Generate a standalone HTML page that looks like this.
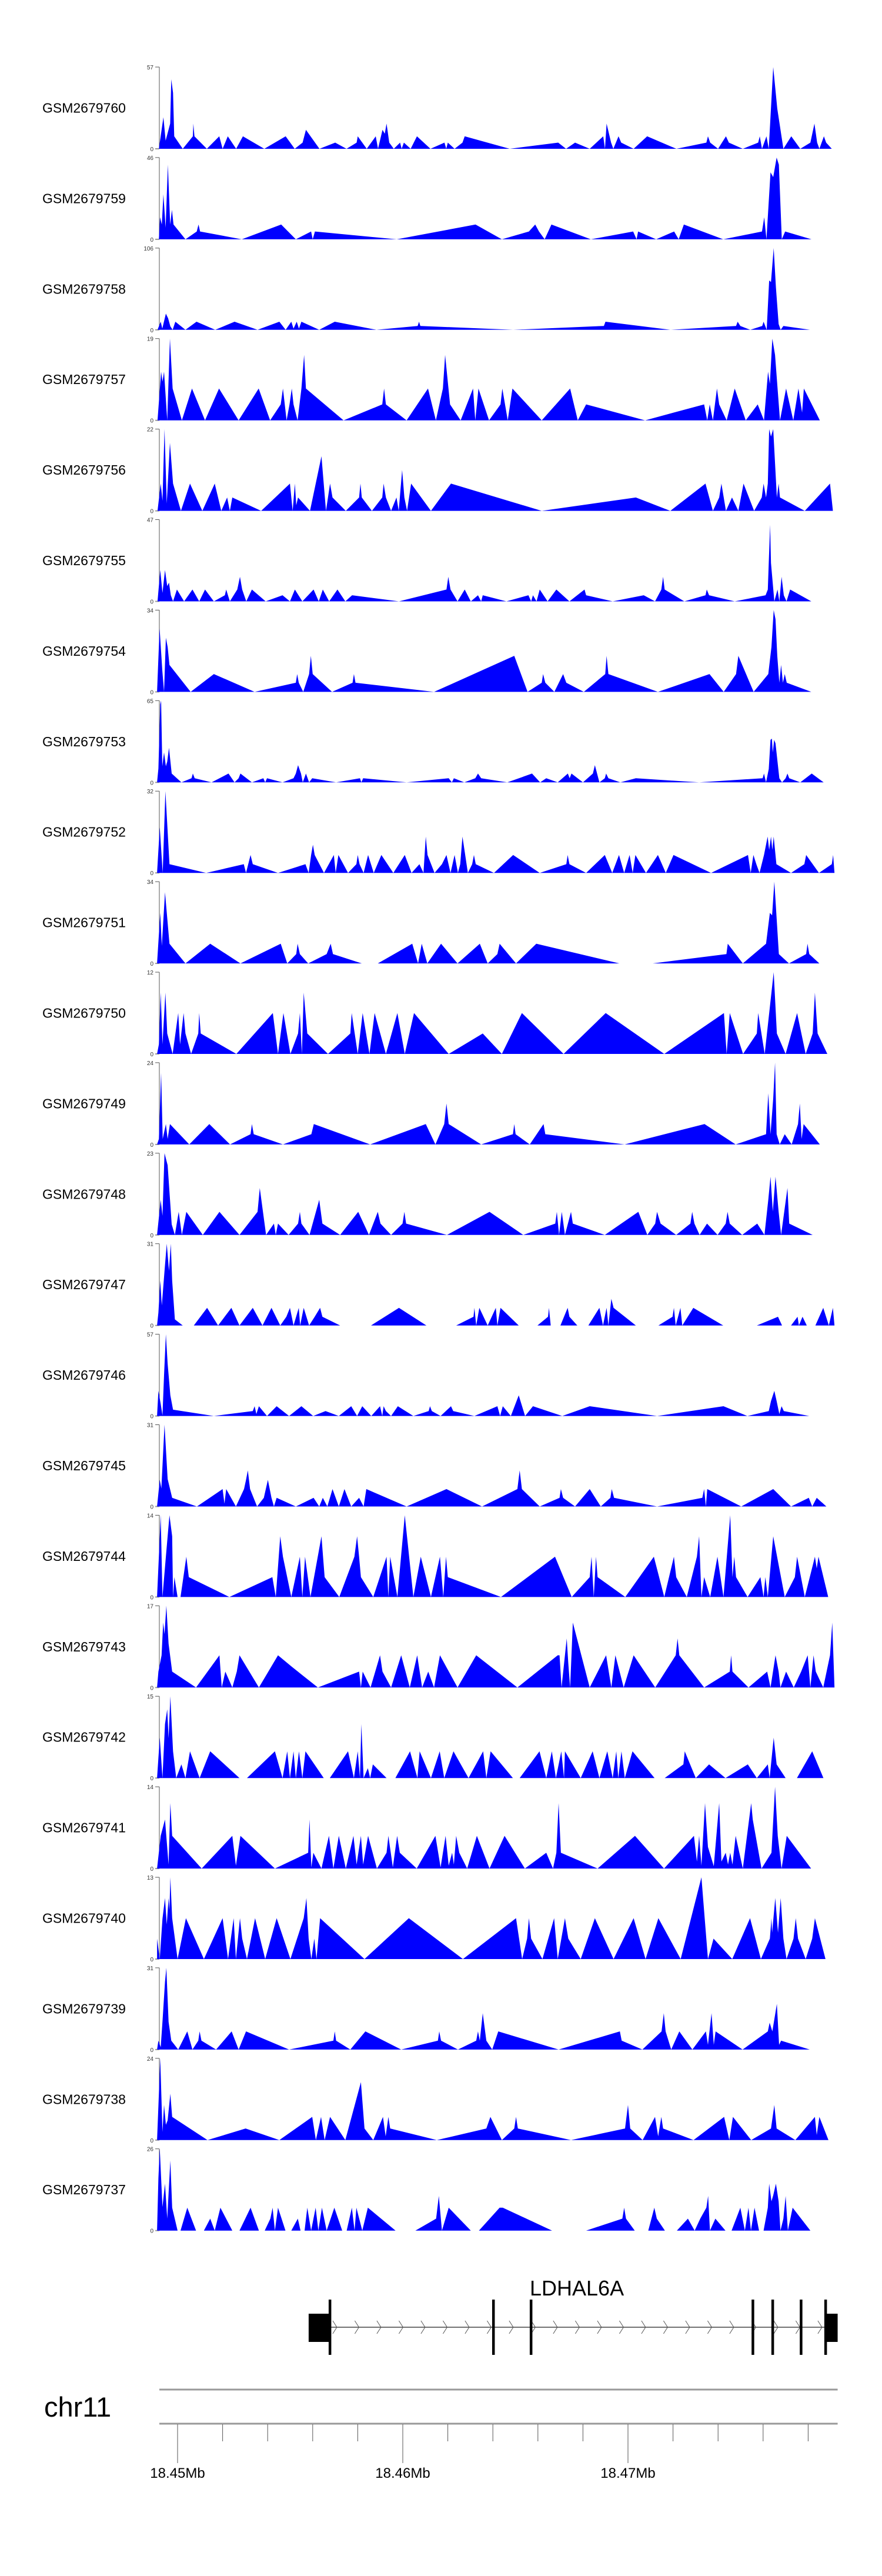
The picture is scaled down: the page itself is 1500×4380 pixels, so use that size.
<!DOCTYPE html>
<html><head><meta charset="utf-8"><title>Coverage tracks LDHAL6A</title>
<style>
html,body{margin:0;padding:0;background:#fff;}
svg{display:block;font-family:"Liberation Sans",Arial,sans-serif;}
</style></head>
<body>
<svg id="chart" width="1500" height="4380" viewBox="0 0 1500 4380" xmlns="http://www.w3.org/2000/svg">
<g id="tracks"></g>
<g id="gene"></g>
<g id="axis"></g>
</svg>
<script>
// positions in kb relative to 18.45 Mb; values = coverage
const trackNames = ["GSM2679760","GSM2679759","GSM2679758","GSM2679757","GSM2679756","GSM2679755","GSM2679754","GSM2679753","GSM2679752","GSM2679751","GSM2679750","GSM2679749","GSM2679748","GSM2679747","GSM2679746","GSM2679745","GSM2679744","GSM2679743","GSM2679742","GSM2679741","GSM2679740","GSM2679739","GSM2679738","GSM2679737"];
const trackMax = [57,46,106,19,22,47,34,65,32,34,12,24,23,31,57,31,14,17,15,14,13,31,24,26];

const pos_760=[-0.83,-0.63,-0.53,-0.33,-0.28,-0.2,-0.15,0.23,0.68,0.7,0.75,1.3,1.85,2.0,2.23,2.6,2.9,3.85,4.8,5.2,5.55,5.7,6.3,7.0,7.5,7.95,8.0,8.4,8.8,8.9,9.1,9.2,9.28,9.4,9.6,9.88,9.95,10.05,10.35,10.63,11.23,11.85,11.93,12.0,12.3,12.65,12.75,14.75,16.9,17.25,17.65,18.3,18.9,18.98,19.05,19.25,19.35,19.58,19.7,20.25,20.85,22.15,23.48,23.55,23.65,24.0,24.35,24.48,25.1,25.78,25.85,25.95,26.15,26.25,26.45,26.63,26.9,27.25,27.65,28.1,28.28,28.4,28.5,28.7,28.8,29.05];
const val_760=[0,22,5.7,17.6,48.5,39,8.7,0,8.7,17.6,8.7,0,8.7,0,8.7,0,8.7,0,8.7,0,4.3,13.2,0,4.3,0,4.3,8.7,0,8.7,0,13.2,10.5,17.6,4.3,0,4.3,0,4.3,0,8.7,0,4.3,0,4.3,0,4.3,8.7,0,4.3,0,4.3,0,8.7,0,17.6,4.3,0,8.7,4.3,0,8.7,0,4.3,8.7,4.3,0,8.7,4.3,0,4.3,8.7,0,8.7,0,57,28,0,8.7,0,4.3,17.6,4.3,0,8.7,4.3,0];

const pos_759=[-0.83,-0.78,-0.7,-0.63,-0.53,-0.43,-0.33,-0.25,-0.18,0.35,0.85,0.93,1.0,2.85,4.6,5.25,5.93,6.0,6.1,9.73,13.23,14.4,15.6,15.88,16.05,16.3,16.6,18.35,20.23,20.38,20.45,21.25,22.05,22.25,22.48,24.23,25.95,26.05,26.15,26.33,26.45,26.6,26.7,26.83,26.98,28.15];
const val_759=[0,12.4,8.3,25.3,6.5,42,8.3,16.6,8.3,0,4.4,8.3,4.4,0,8.3,0,4.4,0,4.4,0,8.3,0,4.4,8.3,4.4,0,8.3,0,4.4,0,4.4,0,4.4,0,8.3,0,4.4,12.4,0,37.7,35,46,42,0,4.4,0];

const pos_758=[-0.89,-0.75,-0.68,-0.52,-0.42,-0.32,-0.22,-0.1,0.35,0.84,1.67,2.53,3.55,4.52,4.8,5.05,5.15,5.29,5.39,5.5,6.29,6.98,8.83,10.66,10.72,10.78,14.9,18.93,19.0,21.88,24.8,24.87,24.99,25.43,25.96,26.02,26.16,26.27,26.35,26.47,26.57,26.69,26.78,26.9,28.08];
const val_758=[0,10.5,1.5,21,15,4.5,0,10.5,0,10.5,0,10.5,0,10.5,0,10.5,1.5,10.5,1.5,10.5,0,10.5,0,5,10.5,5,0,5,10.5,0,5,10.5,5,0,5,10.5,0,64,62,106,55,7.5,0,5,0];

const pos_757=[-0.89,-0.73,-0.67,-0.6,-0.46,-0.34,-0.22,0.19,0.64,1.22,1.84,2.71,3.6,4.11,4.58,4.68,4.84,4.97,5.07,5.15,5.33,5.5,5.62,5.7,7.37,9.09,9.17,9.25,10.17,11.12,11.47,11.78,11.88,12.1,12.57,13.12,13.22,13.36,13.83,14.34,14.42,14.66,14.87,16.17,17.43,17.77,18.14,20.76,23.38,23.52,23.63,23.77,23.95,24.05,24.38,24.74,25.23,25.76,26.04,26.22,26.3,26.41,26.53,26.75,27.02,27.34,27.57,27.73,27.81,28.52];
const val_757=[0,11.3,9,11.3,0,19,7.4,0,7.4,0,7.4,0,7.4,0,3.7,7.4,0,3.7,7.4,3.7,0,7.4,15.2,7.4,0,3.7,7.4,3.7,0,7.4,0,7.4,15.2,3.7,0,7.4,0,7.4,0,3.7,7.4,0,7.4,0,7.4,0,3.7,0,3.7,0,3.7,0,7.4,3.7,0,7.4,0,3.7,0,11.3,8.5,19,15.2,0,7.4,0,7.4,1.8,7.4,0];

const pos_756=[-0.89,-0.75,-0.67,-0.58,-0.48,-0.34,-0.2,0.15,0.55,1.1,1.65,1.94,2.2,2.32,2.43,3.71,4.99,5.11,5.21,5.27,5.35,5.88,6.39,6.59,6.77,6.88,7.47,8.06,8.12,8.18,8.63,9.09,9.15,9.25,9.48,9.72,9.82,9.97,10.07,10.19,10.37,11.25,12.14,16.17,20.35,21.88,23.44,23.77,24.05,24.15,24.35,24.62,24.9,25.13,25.6,25.94,26.02,26.13,26.21,26.27,26.35,26.45,26.61,26.69,26.75,27.85,28.97,29.1];
const val_756=[0,7.35,2.7,22,2,18.3,7.35,0,7.35,0,7.35,0,3.6,0,3.6,0,7.35,0,7.35,1.5,3.6,0,14.7,0,7.35,3.6,0,3.6,7.35,3.6,0,3.6,7.35,3.6,0,3.6,0,11,3.6,0,7.35,0,7.35,0,3.6,0,7.35,0,3.6,7.35,0,3.6,0,7.35,0,3.6,7.35,3.6,7.35,22,20,22,3.6,7.35,3.6,0,7.35,0];

const pos_755=[-0.89,-0.77,-0.67,-0.56,-0.46,-0.38,-0.3,-0.2,-0.03,0.29,0.66,0.96,1.22,1.61,2.1,2.16,2.32,2.65,2.77,2.87,3.05,3.3,3.91,4.66,4.99,5.21,5.54,6.04,6.27,6.45,6.73,7.1,7.45,7.75,9.83,11.94,12.02,12.12,12.43,12.75,13.02,13.34,13.48,13.55,14.6,15.58,15.7,15.78,15.94,16.08,16.43,16.82,17.4,18.07,18.14,19.32,20.7,21.2,21.48,21.56,21.63,22.5,23.44,23.5,23.6,24.74,26.11,26.21,26.31,26.35,26.5,26.64,26.72,26.82,26.92,27.04,27.2,28.14];
const val_755=[0,18,4.8,18,8.8,10.8,3.5,0,6.8,0,6.8,0,6.8,0,3.5,6.8,0,6.8,14.1,6.8,0,6.8,0,3.5,0,6.8,0,6.8,0,6.8,0,6.8,0,3.5,0,6.8,14.1,6.8,0,6.8,0,3.5,0,3.5,0,3.5,0,3.5,0,6.8,0,6.8,0,6.8,3.5,0,3.5,0,6.8,14.1,6.8,0,3.5,6.8,3.5,0,3.5,6.8,44,22,0,6.8,0,14.1,3.5,0,6.8,0];

const pos_754=[-0.91,-0.8,-0.68,-0.6,-0.52,-0.44,-0.36,0.58,1.61,3.42,5.25,5.31,5.38,5.58,5.84,5.92,6.0,6.86,7.77,7.83,7.9,11.39,14.95,15.54,16.17,16.23,16.33,16.73,17.12,17.26,18.04,18.99,19.05,19.13,21.33,23.62,24.25,24.8,24.9,25.58,26.23,26.37,26.47,26.55,26.63,26.72,26.8,26.88,26.96,27.05,28.14];
const val_754=[0,26.5,9,0,22.5,18.7,11.2,0,7.4,0,3.8,7.4,3.8,0,7.4,15,7.4,0,3.8,7.4,3.8,0,15,0,3.8,7.4,3.8,0,7.4,3.8,0,7.4,15,7.4,0,7.4,0,7.4,15,0,7.4,18.7,34,30.2,15,3.8,11.2,3.8,7.4,3.8,0];

const pos_753=[-0.91,-0.85,-0.77,-0.73,-0.68,-0.6,-0.52,-0.46,-0.38,-0.26,0.17,0.62,0.68,0.76,1.51,2.26,2.53,2.71,2.79,3.3,3.81,3.89,3.97,4.66,5.15,5.25,5.35,5.48,5.56,5.7,5.84,5.98,7.04,8.1,8.16,8.24,10.17,12.04,12.18,12.27,12.73,13.22,13.34,13.48,14.64,15.74,16.1,16.37,16.88,17.33,17.41,17.49,18.0,18.44,18.53,18.73,18.97,19.03,19.13,19.66,20.35,23.16,25.98,26.04,26.13,26.25,26.33,26.39,26.43,26.49,26.55,26.72,26.84,27.0,27.08,27.16,27.65,28.16,28.69];
const val_753=[0,11,62,65,12.8,23.8,12.8,16.5,27.5,7,0,3.3,7,3.3,0,7,0,3.3,7,0,3.3,0,3.3,0,3.3,7,13.7,7,0,7,0,3.3,0,3.3,0,3.3,0,3.3,0,3.3,0,3.3,7,3.3,0,7,0,3.3,0,7,3.3,7,0,7,13.7,0,3.3,7,3.3,0,3.3,0,3.3,7,0,10.6,33.8,34.8,23.8,33.8,31,3.3,0,3.3,7,3.3,0,7,0];

const pos_752=[-0.91,-0.79,-0.66,-0.54,-0.36,1.27,2.94,3.04,3.24,3.34,4.46,5.68,5.82,5.93,6.01,6.09,6.5,6.94,7.02,7.14,7.57,7.94,8.0,8.08,8.26,8.46,8.71,9.05,9.58,10.09,10.39,10.74,10.92,11.02,11.1,11.41,11.74,11.94,12.12,12.3,12.45,12.55,12.65,12.89,13.08,13.16,13.24,14.05,14.9,16.08,17.26,17.32,17.4,18.14,18.97,19.3,19.6,19.83,20.07,20.21,20.33,20.8,21.33,21.68,22.02,23.69,25.33,25.45,25.57,25.7,25.84,26.04,26.2,26.27,26.35,26.41,26.47,26.59,27.24,27.83,27.91,28.48,29.05,29.11,29.17];
const val_752=[0,17.8,0,32,3.4,0,3.4,0,7,3.4,0,3.4,0,7,11,7,0,7,0,7,0,3.4,7,3.4,0,7,0,7,0,7,0,3.4,0,14.2,7,0,3.4,7,0,7,0,3.4,14.2,0,3.4,7,3.4,0,7,0,3.4,7,3.4,0,7,0,7,0,7,0,7,0,7,0,7,0,7,0,7,3.4,0,7,14.2,9,14.2,9,14.2,3.4,0,3.4,7,0,3.4,7,0];

const pos_751=[-0.91,-0.77,-0.7,-0.56,-0.36,0.35,1.45,2.79,4.58,4.87,5.27,5.33,5.43,5.8,6.62,6.8,6.9,8.18,8.89,10.42,10.68,10.84,11.09,11.7,12.43,13.42,13.77,14.2,14.3,15.03,15.93,19.62,21.1,24.37,24.43,25.1,26.13,26.3,26.4,26.5,26.7,27.15,27.91,27.97,28.05,28.5];
const val_751=[0,21,7.3,29.6,8.2,0,8.2,0,8.2,0,3.9,8.2,3.9,0,3.9,8.2,3.9,0,0,8.2,0,8.2,0,8.2,0,8.2,0,3.9,8.2,0,8.2,0,0,3.9,8.2,0,8.2,21,20,34,3.9,0,3.9,8.2,3.9,0];

const pos_750=[-0.91,-0.83,-0.75,-0.67,-0.54,-0.46,-0.22,0.03,0.11,0.27,0.35,0.6,0.92,0.96,1.03,2.61,4.23,4.46,4.7,5.01,5.35,5.43,5.52,5.6,5.76,6.68,7.67,7.73,8.0,8.22,8.52,8.75,9.25,9.76,10.09,10.5,12.04,13.55,14.4,15.29,17.14,19.01,21.61,24.26,24.38,24.52,25.11,25.72,25.78,26.07,26.47,26.61,27.0,27.51,27.89,28.2,28.3,28.42,28.85];
const val_750=[0,1.4,9,1.4,9,3,0,6,1.4,6,3,0,3,6,3,0,6,0,6,0,3,6,0,9,3,0,3,6,0,6,0,6,0,6,0,6,0,3,0,6,0,6,0,6,0,6,0,3,6,0,12,3,0,6,0,3,9,3,0];

const pos_749=[-0.91,-0.83,-0.73,-0.66,-0.52,-0.44,-0.34,0.52,1.41,2.33,3.24,3.3,3.38,4.68,5.94,6.05,8.55,11.02,11.45,11.84,11.94,12.04,13.48,14.89,14.95,15.01,15.64,16.25,16.33,19.85,23.4,24.78,26.13,26.23,26.33,26.45,26.53,26.6,26.74,26.96,27.27,27.55,27.63,27.71,27.8,28.52];
const val_749=[0,1.6,21,1.6,6,1.6,6,0,6,0,3,6,3,0,3,6,0,6,0,6,12,6,0,3,6,3,0,6,3,0,6,0,3,15,3,13.5,24,3,0,3,0,6,12,1.6,6,0];

const pos_748=[-0.91,-0.75,-0.67,-0.58,-0.44,-0.26,-0.12,0.05,0.19,0.39,1.12,1.86,2.75,3.55,3.65,3.93,4.28,4.36,4.46,4.93,5.35,5.43,5.5,5.86,6.29,6.43,7.22,8.02,8.5,8.89,9.01,9.48,9.99,10.07,10.15,11.96,13.85,15.35,16.77,16.84,16.94,17.06,17.2,17.47,17.55,18.97,20.46,20.86,21.21,21.29,21.45,22.14,22.77,22.85,22.95,23.18,23.51,23.98,24.34,24.42,24.52,25.07,25.74,26.06,26.23,26.33,26.43,26.55,26.69,26.8,27.08,27.16,28.2];
const val_748=[0,9.9,5.4,23,19.6,3,0,6.5,0,6.5,0,6.5,0,6.5,13.2,0,3.2,0,3.2,0,3.2,6.5,3.2,0,9.9,3.2,0,6.5,0,6.5,3.2,0,3.2,6.5,3.2,0,6.5,0,3.2,6.5,0,6.5,0,6.5,3.2,0,6.5,0,3.2,6.5,3.2,0,3.2,6.5,3.2,0,3.2,0,3.2,6.5,3.2,0,3.2,0,9.9,16.4,6.6,16.4,6.5,0,13.2,3.2,0];

const pos_747=[-0.91,-0.85,-0.77,-0.7,-0.58,-0.48,-0.38,-0.3,-0.24,-0.12,0.23,0.72,1.31,1.8,2.39,2.75,3.34,3.77,4.17,4.56,4.83,4.99,5.15,5.38,5.44,5.6,5.84,6.09,6.33,6.43,7.22,8.59,9.83,11.05,12.37,13.14,13.18,13.26,13.4,13.77,14.13,14.2,14.34,15.15,15.98,16.45,16.49,16.57,17.0,17.32,17.4,17.75,18.24,18.73,18.89,19.05,19.13,19.26,19.36,20.35,21.35,21.98,22.04,22.12,22.33,22.41,22.9,24.23,25.72,26.66,26.84,27.24,27.53,27.59,27.75,27.94,28.32,28.67,28.92,29.1,29.17];
const val_747=[0,4.9,17,7.6,20.7,31,20.7,31,17,2.3,0,0,6.7,0,6.7,0,6.7,0,6.7,0,3.3,6.7,0,6.7,0,6.7,0,3.3,6.7,3.3,0,0,6.7,0,0,3.3,6.7,0,6.7,0,6.7,0,6.7,0,0,3.3,6.7,0,0,6.7,3.3,0,0,6.7,0,6.7,0,10.1,6.7,0,0,3.3,6.7,0,6.7,0,6.7,0,0,3.3,0,0,3.3,0,3.3,0,0,6.7,0,6.7,0];

const pos_746=[-0.91,-0.85,-0.75,-0.67,-0.6,-0.52,-0.44,-0.32,-0.2,1.61,3.34,3.42,3.5,3.61,3.97,4.4,4.95,5.5,6.02,6.57,7.16,7.71,7.97,8.2,8.6,8.99,9.09,9.15,9.25,9.48,9.78,10.47,11.15,11.21,11.29,11.68,12.14,12.24,13.18,14.2,14.32,14.44,14.8,15.15,15.43,15.78,17.08,18.3,21.29,24.24,25.3,26.25,26.35,26.5,26.6,26.72,26.82,26.92,28.05];
const val_746=[0,17.5,8.4,0.4,28.5,57,36.5,14.4,4.4,0,3.4,6.8,1.4,6.8,0,6.8,0,6.8,0,3.4,0,6.8,0,6.8,0,6.8,0,6.8,3.4,0,6.8,0,3.4,6.8,3.4,0,6.8,3.4,0,6.8,0,6.8,0,14.4,0,6.8,0,6.8,0,6.8,0,3.4,10.4,17.5,10.4,1.4,6.8,3.4,0];

const pos_745=[-0.91,-0.79,-0.72,-0.58,-0.44,-0.24,0.86,2.0,2.08,2.16,2.59,2.95,3.04,3.12,3.22,3.53,3.83,4.01,4.17,4.28,4.4,5.25,6.04,6.29,6.45,6.65,6.88,7.16,7.41,7.71,8.06,8.26,8.38,10.17,11.94,13.52,15.09,15.19,15.29,16.08,16.96,17.02,17.12,17.65,18.3,18.79,19.22,19.28,19.38,21.29,23.3,23.38,23.46,23.52,25.03,26.45,27.24,28.03,28.18,28.38,28.81];
const val_745=[0,10.1,6.8,31,10.4,3.3,0,6.6,1.1,6.6,0,6.6,10.1,13.7,6.6,0,3.3,10.1,3.3,0,3.3,0,3.3,0,3.3,0,6.6,0,6.6,0,3.3,0,6.6,0,6.6,0,6.6,13.7,6.6,0,3.3,6.6,3.3,0,6.6,0,3.3,6.6,3.3,0,3.3,6.6,0,6.6,0,6.6,0,3.3,0,3.3,0];

const pos_744=[-0.91,-0.75,-0.67,-0.52,-0.36,-0.24,-0.2,-0.14,0.0,0.13,0.39,0.5,2.3,4.21,4.36,4.56,4.68,5.05,5.43,5.54,5.66,5.9,6.39,6.53,7.18,7.85,7.97,8.06,8.14,8.69,9.28,9.36,9.44,9.76,10.09,10.47,10.8,11.25,11.65,11.8,11.92,12.0,14.36,16.76,17.5,18.3,18.38,18.48,18.58,18.65,19.88,21.15,21.61,22.04,22.14,22.61,23.06,23.16,23.26,23.38,23.65,23.97,24.24,24.54,24.64,24.72,24.8,25.31,25.88,26.02,26.1,26.21,26.45,26.96,27.41,27.51,27.85,28.3,28.38,28.46,28.89];
const val_744=[0,14,0,6.9,14,10.4,0,3.4,0,0,6.9,3.4,0,3.4,0,10.4,6.9,0,6.9,0,6.9,0,10.4,3.4,0,6.9,10.4,6.9,3.4,0,6.9,0,6.9,0,14,0,6.9,0,6.9,0,6.9,3.4,0,6.9,0,3.4,6.9,0,6.9,3.4,0,6.9,0,6.9,3.4,0,6.9,10.4,0,3.4,0,6.9,0,14,3.4,6.9,3.4,0,3.4,0,3.4,0,10.4,0,3.4,6.9,0,6.9,4.9,6.9,0];

const pos_743=[-0.91,-0.85,-0.71,-0.64,-0.58,-0.5,-0.4,-0.24,0.82,1.86,1.96,2.12,2.43,2.63,2.75,3.61,4.46,5.05,6.23,8.06,8.14,8.22,8.57,8.99,9.1,9.48,9.93,10.31,10.64,10.86,11.13,11.39,11.65,12.43,13.26,15.09,16.88,16.96,17.05,17.28,17.35,17.43,17.55,18.3,19.03,19.26,19.44,19.81,20.25,21.21,22.12,22.2,22.28,23.38,24.52,24.58,24.64,25.35,26.18,26.33,26.55,26.69,26.77,27.02,27.36,27.69,27.98,28.1,28.24,28.34,28.67,28.97,29.07,29.17];
const val_743=[0,3.3,6.7,13.5,11.1,17,9.1,3.3,0,6.7,0,3.3,0,3.3,6.7,0,6.7,4.4,0,3.3,0,3.3,0,6.7,3.3,0,6.7,0,6.7,0,3.3,0,6.7,0,6.7,0,6.7,6.7,0,10.2,5,0,13.5,0,6.7,0,6.7,0,6.7,0,6.7,10.2,6.7,0,3.3,6.7,3.3,0,3.3,0,6.7,3.3,0,3.3,0,3.3,6.7,0,6.7,3.3,0,6.7,13.5,0];

const pos_742=[-0.91,-0.79,-0.67,-0.56,-0.46,-0.4,-0.32,-0.2,-0.06,0.17,0.35,0.55,0.98,1.45,2.75,3.08,4.32,4.66,4.87,4.99,5.15,5.25,5.39,5.54,5.68,6.49,6.76,7.57,7.83,8.0,8.1,8.16,8.26,8.45,8.55,8.67,9.28,9.67,10.32,10.65,10.75,11.25,11.64,11.84,12.25,12.92,13.57,13.71,13.9,14.89,15.19,16.07,16.37,16.62,16.8,17.04,17.16,17.2,17.9,18.43,18.73,19.08,19.32,19.48,19.57,19.71,19.86,20.2,21.18,21.63,22.46,22.52,23.01,23.6,24.33,25.32,25.72,26.21,26.29,26.47,26.6,27.0,27.5,28.18,28.68];
const val_742=[0,7.4,0,9.9,12.6,7.3,15,4.9,0,2.5,0,4.9,0,4.9,0,0,4.9,0,4.9,0,4.9,0,4.9,0,4.9,0,0,4.9,0,4.9,0,9.9,0,1.8,0,2.5,0,0,4.9,0,4.9,0,4.9,0,4.9,0,4.9,0,4.9,0,0,4.9,0,4.9,0,4.9,0,4.9,0,4.9,0,4.9,0,4.9,0,4.9,0,4.9,0,0,2.5,4.9,0,2.5,0,2.5,0,2.5,0,7.4,2.5,0,0,4.9,0];

const pos_741=[-0.91,-0.75,-0.56,-0.4,-0.32,-0.24,1.07,2.43,2.59,2.79,4.32,5.8,5.86,5.94,6.03,6.39,6.72,6.92,7.16,7.47,7.81,7.95,8.14,8.24,8.46,8.85,9.28,9.36,9.56,9.75,9.87,10.62,11.45,11.68,11.9,12.04,12.19,12.27,12.37,12.51,12.86,13.29,13.85,14.52,15.42,16.37,16.67,16.82,16.92,17.02,18.65,20.31,21.6,22.93,23.06,23.16,23.26,23.42,23.55,23.81,24.05,24.15,24.34,24.44,24.54,24.64,24.78,25.1,25.47,25.54,25.93,26.37,26.53,26.65,26.82,27.05,28.13];
const val_741=[0,5.6,8.4,0.7,11.2,5.6,0,5.6,0.5,5.6,0,2.7,8.4,0.2,2.7,0,5.6,0,5.6,0,5.6,0.7,5.6,0.7,5.6,0,2.7,5.6,0.2,5.6,2.7,0,5.6,0.2,5.6,0.5,2.7,0.7,5.6,2.7,0,5.6,0,5.6,0,2.7,0,2.7,11.2,2.7,0,5.6,0,5.6,1.2,5.6,0.5,11.2,3.7,0.4,11.2,1.2,2.7,0.7,2.7,0.7,5.6,0,11.2,8.4,0,2.7,14,5.6,0,5.6,0];

const pos_740=[-0.91,-0.79,-0.67,-0.56,-0.48,-0.4,-0.36,-0.32,-0.24,0.0,0.37,1.17,2.0,2.24,2.49,2.59,2.77,2.87,3.08,3.44,3.89,4.4,5.01,5.6,5.72,5.82,5.94,6.07,6.17,6.33,8.3,10.27,12.67,15.03,15.3,15.52,15.6,15.7,16.2,16.72,16.88,17.2,17.35,17.9,18.53,19.36,20.25,20.78,21.35,22.34,23.26,23.55,23.8,24.63,25.42,25.9,26.3,26.37,26.4,26.54,26.66,26.78,26.9,27.04,27.35,27.45,27.55,27.89,28.18,28.3,28.77];
const val_740=[3.25,0,6.4,9.7,5.5,9.7,7.8,13,6.5,0,6.5,0,6.5,0,6.5,0,6.5,3.25,0,6.5,0,6.5,0,6.5,9.7,3.25,0,3.25,0,6.5,0,6.5,0,6.5,0,3.25,6.5,3.25,0,6.5,0,6.5,3.25,0,6.5,0,6.5,0,6.5,0,13,0,3.25,0,6.5,0,3.25,6.5,4.2,9.7,4.2,9.7,3.25,0,3.25,6.5,3.25,0,3.25,6.5,0];

const pos_739=[-0.91,-0.85,-0.75,-0.67,-0.56,-0.5,-0.4,-0.28,0.03,0.43,0.66,0.92,0.98,1.06,1.71,2.4,2.71,3.04,4.95,6.92,6.98,7.04,7.67,8.34,9.93,11.56,11.62,11.7,12.45,13.26,13.34,13.42,13.55,13.71,13.97,14.24,16.92,19.64,19.72,20.64,21.49,21.59,21.67,21.92,22.28,22.86,23.46,23.55,23.71,23.81,23.89,25.09,26.21,26.29,26.41,26.61,26.71,26.8,28.07];
const val_739=[0,3.4,0.9,10.5,25.7,31,10.5,3.4,0,6.9,0,3.4,6.9,3.4,0,6.9,0,6.9,0,3.4,6.9,3.4,0,6.9,0,3.4,6.9,3.4,0,3.4,6.9,3.4,13.8,3.4,0,6.9,0,6.9,3.4,0,6.9,13.8,6.9,0,6.9,0,6.9,1.8,13.8,1.8,6.9,0,6.9,10.2,6.9,17.3,1.8,3.4,0];

const pos_738=[-0.91,-0.85,-0.77,-0.67,-0.6,-0.52,-0.44,-0.32,-0.24,1.33,3.02,4.52,5.98,6.14,6.37,6.53,6.77,7.45,8.14,8.3,8.69,9.12,9.24,9.36,9.44,11.51,13.71,13.89,14.4,14.95,15.03,15.11,17.47,19.87,20.0,20.1,20.65,21.2,21.34,21.48,21.56,22.91,24.27,24.5,24.66,25.47,26.35,26.5,26.6,27.43,28.3,28.38,28.5,28.9];
const val_738=[0,10,24,2.4,10.3,4.5,5.8,13.6,6.8,0,3.4,0,6.8,0,6.8,0,6.8,0,17,3.4,0,6.8,1.1,6.8,3.4,0,3.4,6.8,0,3.4,6.8,3.4,0,3.4,10.3,3.4,0,6.8,1.1,6.8,3.4,0,6.8,0,6.8,0,3.4,10.3,3.4,0,6.8,1.5,6.8,0];

const pos_737=[-0.91,-0.85,-0.79,-0.67,-0.56,-0.46,-0.32,-0.24,0.0,0.13,0.43,0.82,1.17,1.45,1.65,1.9,2.43,2.75,3.24,3.61,3.87,4.12,4.22,4.32,4.46,4.79,5.05,5.34,5.46,5.64,5.76,5.93,6.13,6.25,6.41,6.62,6.96,7.31,7.51,7.74,7.86,7.94,8.2,8.45,9.68,10.56,11.48,11.6,11.74,12.04,13.02,13.38,14.3,14.44,16.63,18.14,19.75,19.83,19.91,20.3,20.9,21.17,21.28,21.64,22.17,22.66,22.96,23.21,23.48,23.56,23.64,23.88,24.33,24.6,24.99,25.19,25.35,25.46,25.62,25.82,26.02,26.21,26.27,26.37,26.45,26.57,26.69,26.77,26.9,27.0,27.1,27.31,28.1];
const val_737=[0,16.7,26,7.5,14.9,3.8,22.3,7.3,0,0,7.3,0,0,3.8,0,7.3,0,0,7.3,0,0,3.8,7.3,0,7.3,0,0,3.8,0,0,7.3,0,7.3,0,7.3,0,7.3,0,0,7.3,0,7.3,0,7.3,0,0,3.8,11,0,7.3,0,0,7.3,7.3,0,0,3.8,7.3,3.8,0,0,7.3,3.8,0,0,3.8,0,3.8,7.3,11,0,3.8,0,0,7.3,0,7.3,0,7.3,0,0,7.3,14.9,9.3,11.2,14.9,9.3,0,3.8,11,0,7.3,0];

const trackPos=[pos_760,pos_759,pos_758,pos_757,pos_756,pos_755,pos_754,pos_753,pos_752,pos_751,pos_750,pos_749,pos_748,pos_747,pos_746,pos_745,pos_744,pos_743,pos_742,pos_741,pos_740,pos_739,pos_738,pos_737];
const trackVal=[val_760,val_759,val_758,val_757,val_756,val_755,val_754,val_753,val_752,val_751,val_750,val_749,val_748,val_747,val_746,val_745,val_744,val_743,val_742,val_741,val_740,val_739,val_738,val_737];

// gene model (kb relative to 18.45 Mb)
const geneName = "LDHAL6A";
const utrBoxes = [[5.82,6.76],[28.77,29.31]];
const exonPos = [6.76,14.02,15.69,25.54,26.42,27.68,28.77];
const geneRange = [6.76,28.77];
const axisRange = [-0.81,29.31];
const axisTicksKb = [0,2,4,6,8,10,12,14,16,18,20,22,24,26,28];
const axisLabels = ["18.45Mb","18.46Mb","18.47Mb"];
const axisLabelKb = [0,10,20];

const NS="http://www.w3.org/2000/svg";
const PX_ORIGIN=302, PX_PER_KB=38.3;
function xScale(kb){return PX_ORIGIN+kb*PX_PER_KB;}
const TRACK_BASE0=253, TRACK_PITCH=153.9, TRACK_H=139, AXIS_X=271;
function mk(tag,attrs,parent){const e=document.createElementNS(NS,tag);for(const k in attrs)e.setAttribute(k,attrs[k]);parent.appendChild(e);return e;}

const gT=document.getElementById('tracks');
trackNames.forEach(function(name,i){
  const base=TRACK_BASE0+i*TRACK_PITCH, top=base-TRACK_H, mx=trackMax[i];
  const yS=function(v){return base-(v/mx)*TRACK_H;};
  const g=mk('g',{},gT);
  
  
  const lab=mk('text',{x:72,y:top+TRACK_H/2+8,'font-size':23,fill:'#000'},g);
  lab.textContent=name;
  
  
  const ax=mk('line',{x1:AXIS_X,y1:top,x2:AXIS_X,y2:base,stroke:'#555','stroke-width':1},g);
  
  
  mk('line',{x1:AXIS_X-7,y1:top,x2:AXIS_X,y2:top,stroke:'#555','stroke-width':1},g);
  mk('line',{x1:AXIS_X-7,y1:base,x2:AXIS_X,y2:base,stroke:'#999','stroke-width':2},g);
  const tMax=mk('text',{x:AXIS_X-10,y:top+4,'font-size':10,'text-anchor':'end',fill:'#333'},g);
  tMax.textContent=String(mx);
  
  
  const t0=mk('text',{x:AXIS_X-10,y:base+4,'font-size':10,'text-anchor':'end',fill:'#333'},g);
  t0.textContent='0';
  
  
  const P=trackPos[i], V=trackVal[i];
  let d='M'+xScale(P[0]).toFixed(1)+','+base;
  for(let k=0;k<P.length;k++){d+='L'+xScale(P[k]).toFixed(1)+','+yS(V[k]).toFixed(1);}
  d+='L'+xScale(P[P.length-1]).toFixed(1)+','+base+'Z';
  const area=mk('path',{d:d,fill:'#0000ff',stroke:'none'},g);
  
  
});

// gene track
const gG=document.getElementById('gene');
const GY=3957;
const intron=mk('line',{x1:xScale(geneRange[0]),y1:GY,x2:xScale(geneRange[1]),y2:GY,stroke:'#444','stroke-width':1.5},gG);


for(let x=xScale(geneRange[0])+8;x<xScale(geneRange[1])-4;x+=37.5){
  const c=mk('polyline',{points:(x-3)+','+(GY-11)+' '+(x+4)+','+GY+' '+(x-3)+','+(GY+11),fill:'none',stroke:'#555','stroke-width':1},gG);
  
  
}
utrBoxes.forEach(function(b){
  const r=mk('rect',{x:xScale(b[0]),y:3934,width:xScale(b[1])-xScale(b[0]),height:48,fill:'#000'},gG);
  
  
});
exonPos.forEach(function(p){
  const r=mk('rect',{x:xScale(p)-2,y:3910,width:4.5,height:94,fill:'#000'},gG);
  
  
});
const gl=mk('text',{x:901,y:3903,'font-size':36,fill:'#000'},gG);
gl.textContent=geneName;



// genome axis
const gA=document.getElementById('axis');
const chr=mk('text',{x:75,y:4109,'font-size':47,fill:'#000'},gA);
chr.textContent='chr11';


const l1=mk('line',{x1:xScale(axisRange[0]),y1:4063,x2:xScale(axisRange[1]),y2:4063,stroke:'#999','stroke-width':3},gA);


const l2=mk('line',{x1:xScale(axisRange[0]),y1:4121,x2:xScale(axisRange[1]),y2:4121,stroke:'#999','stroke-width':3},gA);


axisTicksKb.forEach(function(k){
  const major=axisLabelKb.indexOf(k)>=0;
  const t=mk('line',{x1:xScale(k),y1:4122,x2:xScale(k),y2:major?4188:4151,stroke:'#555','stroke-width':1},gA);
  
  
});
axisLabels.forEach(function(s,j){
  const t=mk('text',{x:xScale(axisLabelKb[j]),y:4213,'font-size':24,'text-anchor':'middle',fill:'#000'},gA);
  t.textContent=s;
  
  
});
</script>
</body></html>
